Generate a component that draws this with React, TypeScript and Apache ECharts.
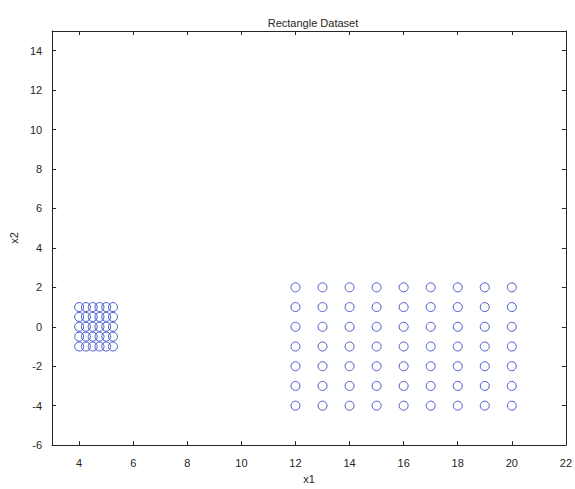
import React, { useEffect, useRef } from "react";
import * as echarts from "echarts";

const title = "Rectangle Dataset";
const xName = "x1";
const yName = "x2";

// Small cluster (left)
const smallX = [4, 4.25, 4.5, 4.75, 5, 5.25];
const smallY = [-1, -0.5, 0, 0.5, 1];
// Large cluster (right)
const bigX = [12, 13, 14, 15, 16, 17, 18, 19, 20];
const bigY = [-4, -3, -2, -1, 0, 1, 2];

const xMin = 3, xMax = 22, xStep = 2;
const yMin = -6, yMax = 15, yStep = 2;

function grid(xs: number[], ys: number[]) {
  const out: number[][] = [];
  for (const y of ys) for (const x of xs) out.push([x, y]);
  return out;
}

export default function App() {
  const ref = useRef<HTMLDivElement>(null);
  useEffect(() => {
    const chart = echarts.init(ref.current!, undefined, { renderer: "svg" });
    const font = "Liberation Sans, Arial, sans-serif";
    const txt = "#262626";
    const line = { show: true, onZero: false, lineStyle: { color: "#262626", width: 1 } };
    const tick = { show: true, inside: true, length: 4, lineStyle: { color: "#262626" } };
    const marker = {
      symbol: "circle",
      symbolSize: 9,
      itemStyle: { color: "rgba(0,0,0,0)", borderColor: "#1f34c0", borderWidth: 1 },
    };
    chart.setOption({
      animation: false,
      backgroundColor: "#ffffff",
      title: {
        text: title,
        left: 308,
        textAlign: "center",
        top: 12,
        textStyle: { fontSize: 11, fontWeight: "normal", color: txt, fontFamily: font },
      },
      grid: { left: 50, right: 9, top: 31, bottom: 37, containLabel: false },
      xAxis: [
        {
          type: "value",
          min: xMin,
          max: xMax,
          splitNumber: 10,
          position: "bottom",
          name: xName,
          nameLocation: "middle",
          nameGap: 25,
          nameTextStyle: { fontSize: 11, color: txt, fontFamily: font },
          axisLabel: {
            fontSize: 11,
            color: txt,
            fontFamily: font,
            margin: 12,
            showMinLabel: false,
            formatter: (v: number) => (v % xStep === 0 ? String(v) : ""),
          },
          axisLine: line,
          axisTick: tick,
          splitLine: { show: false },
        },
        {
          type: "value",
          min: xMin,
          max: xMax,
          splitNumber: 10,
          position: "top",
          axisLabel: { show: false },
          axisLine: line,
          axisTick: tick,
          splitLine: { show: false },
        },
      ],
      yAxis: [
        {
          type: "value",
          min: yMin,
          max: yMax,
          splitNumber: 10,
          position: "left",
          name: yName,
          nameLocation: "middle",
          nameGap: 30,
          nameTextStyle: { fontSize: 11, color: txt, fontFamily: font },
          axisLabel: {
            fontSize: 11,
            color: txt,
            fontFamily: font,
            margin: 10,
            showMaxLabel: false,
            formatter: (v: number) => (v % yStep === 0 ? String(v) : ""),
          },
          axisLine: line,
          axisTick: tick,
          splitLine: { show: false },
        },
        {
          type: "value",
          min: yMin,
          max: yMax,
          splitNumber: 10,
          position: "right",
          axisLabel: { show: false },
          axisLine: line,
          axisTick: tick,
          splitLine: { show: false },
        },
      ],
      series: [
        { type: "scatter", xAxisIndex: 0, yAxisIndex: 0, data: grid(smallX, smallY), ...marker },
        { type: "scatter", xAxisIndex: 0, yAxisIndex: 0, data: grid(bigX, bigY), ...marker },
      ],
    });
    return () => chart.dispose();
  }, []);
  return <div ref={ref} style={{ width: 575, height: 489, position: "absolute", left: 0, top: 0 }} />;
}
